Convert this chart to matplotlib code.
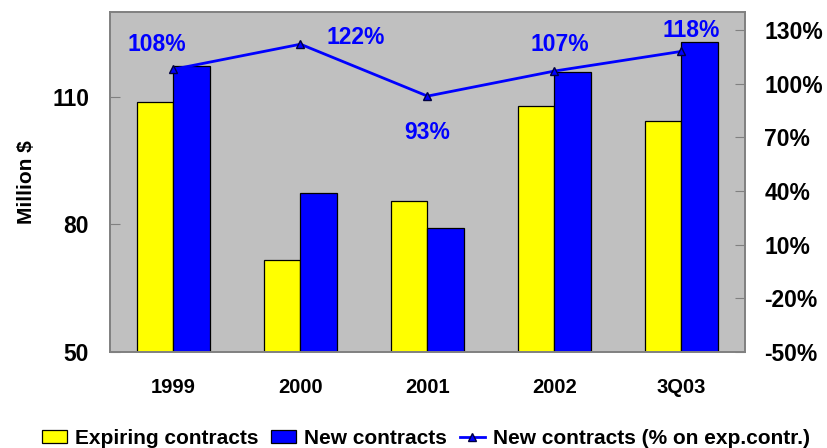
import numpy as np
import matplotlib.pyplot as plt
from matplotlib.ticker import FixedLocator

plt.rcParams['font.family'] = ['Liberation Sans', 'DejaVu Sans']
plt.rcParams['font.weight'] = 'bold'

# contract values in million $ and new/expiring ratio in %
periods = ["1999", "2000", "2001", "2002", "3Q03"]
expiring = [108.8, 71.7, 85.5, 108.0, 104.4]
new_contracts = [117.3, 87.4, 79.2, 116.0, 123.0]
ratio_pct = [108, 122, 93, 107, 118]

# label offsets (points) for each ratio annotation
label_offsets = [(-12, 18), (40, 5), (0, -26), (4, 19), (7, 15)]

fig = plt.figure(figsize=(8.27, 4.48), dpi=100)
ax = fig.add_axes([0.133, 0.2143, 0.7678, 0.7589])
ax.set_facecolor("#C0C0C0")

x = np.arange(len(periods))
w = 0.2875
b1 = ax.bar(x - w / 2, expiring, w, color="#FFFF00", edgecolor="black",
            linewidth=0.9, label="Expiring contracts")
b2 = ax.bar(x + w / 2, new_contracts, w, color="#0000FF", edgecolor="black",
            linewidth=0.9, label="New contracts")

ax.set_xlim(-0.5, len(periods) - 0.5)
ax.set_ylim(50, 130)
ax.yaxis.set_major_locator(FixedLocator([50, 80, 110]))
ax.set_xticks(x)
ax.set_xticklabels(periods, fontsize=14.5, fontweight="bold")
ax.tick_params(axis="x", length=0, pad=19)
ax.tick_params(axis="y", direction="in", length=7, color="#808080",
               labelsize=16.5, pad=15)
for s in ax.spines.values():
    s.set_color("#808080")
    s.set_linewidth(1.2)
ax.set_ylabel("Million $", fontsize=15, fontweight="bold")
ax.yaxis.set_label_coords(-0.116, 0.5)

ax2 = ax.twinx()
ax2.set_ylim(-50, 140)
ax2.yaxis.set_major_locator(FixedLocator([-50, -20, 10, 40, 70, 100, 130]))
ax2.set_yticklabels([f"{v}%" for v in [-50, -20, 10, 40, 70, 100, 130]])
ax2.tick_params(axis="y", direction="in", length=7, color="#808080",
                labelsize=16.5, pad=14)
for s in ax2.spines.values():
    s.set_color("#808080")
    s.set_linewidth(1.2)

ln, = ax2.plot(x, ratio_pct, color="#0000FF", linewidth=2, marker="^",
               markersize=6, markerfacecolor="#0000FF", markeredgecolor="#000040",
               label="New contracts (% on exp.contr.)")
for xi, v, off in zip(x, ratio_pct, label_offsets):
    ax2.annotate(f"{v}%", (xi, v), xytext=off, textcoords="offset points",
                 ha="center", va="center", color="#0000FF",
                 fontsize=16.5, fontweight="bold")

fig.legend(handles=[b1, b2, ln], loc="center", bbox_to_anchor=(0.515, 0.022),
           ncol=3, frameon=False, fontsize=15, handlelength=1.2,
           handleheight=0.6, handletextpad=0.4, columnspacing=0.6, borderpad=0)

fig.savefig("out.png", dpi=100)
